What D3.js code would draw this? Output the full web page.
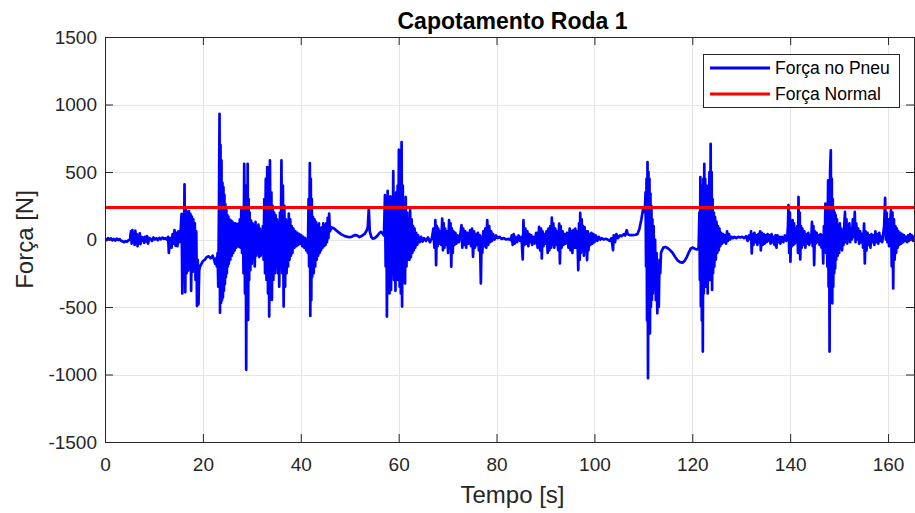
<!DOCTYPE html>
<html><head><meta charset="utf-8">
<script src="https://cdn.jsdelivr.net/npm/d3@7"></script>
<style>body{margin:0;background:#fff;}svg{display:block;font-family:"Liberation Sans",Arial,sans-serif;}</style>
</head><body>
<svg id="chart" width="915" height="513"></svg>
<script>
const chartTitle = "Capotamento Roda 1";
const xLabel = "Tempo [s]";
const yLabel = "Força [N]";
const seriesNames = ["Força no Pneu", "Força Normal"];
const xTicks = [0,20,40,60,80,100,120,140,160];
const yTicks = [-1500,-1000,-500,0,500,1000,1500];
const xDomain = [0, 165.3];
const yDomain = [-1500, 1500];
const normalForce = 237;
// [tempo (s), força (N)]
const forcaPneu = [
[0,5],[0.3,-5],[0.6,10],[0.9,0],[1.2,8],[1.5,-6],[1.8,4],[2.1,-8],[2.4,6],[2.7,-4],[3,2],[3.3,-10],[3.6,-14],[3.9,-20],[4.2,-12],[4.5,-16],[4.8,-6],[5.1,-2],
[5.3,60],[5.45,-30],[5.6,70],[5.75,-20],[5.9,50],[6.05,-40],[6.2,65],[6.35,-10],[6.5,40],[6.65,-50],[6.8,30],[6.95,-20],[7.1,45],[7.25,-35],[7.4,20],[7.6,-10],
[7.8,15],[8.0,-25],[8.2,20],[8.4,-15],[8.6,25],[8.8,-30],[9.0,10],[9.3,5],[9.6,-10],[9.9,15],[10.2,0],[10.5,10],[10.8,-5],[11.1,12],[11.4,2],[11.7,14],[12.0,5],[12.3,10],[12.6,0],
[12.9,20],[13.05,-100],[13.2,-20],[13.4,10],[13.6,-60],[13.8,40],[14.0,-30],[14.2,70],[14.4,-45],[14.6,50],[14.8,-50],[15.0,60],[15.2,-20],[15.4,30],
[15.65,190],[15.8,-400],[15.95,180],[16.1,-150],[16.25,409],[16.4,-390],[16.55,220],[16.7,-250],[16.85,200],[17.0,-230],[17.15,210],[17.3,-200],[17.45,190],[17.6,-380],[17.75,170],[17.9,-240],[18.05,150],[18.2,-180],[18.35,120],[18.5,-300],[18.65,60],[18.8,-493],[18.95,-150],[19.1,-480],[19.25,-230],[19.4,-200],
[19.7,-180],[20.0,-160],[20.4,-150],[20.8,-130],[21.2,-125],[21.6,-140],[22.0,-120],[22.3,-150],[22.5,-180],[22.7,-140],
[22.85,-200],[23.0,-100],[23.15,-350],[23.3,300],[23.4,931],[23.5,-542],[23.6,700],[23.7,-470],[23.8,586],[23.9,-450],[24.0,420],[24.1,-430],[24.2,389],[24.3,-380],[24.4,330],[24.5,-330],[24.6,260],[24.7,-280],[24.8,220],[24.9,-250],[25.0,180],[25.1,-200],[25.2,170],[25.3,-180],[25.45,150],[25.6,-150],[25.75,140],[25.9,-120],[26.05,130],[26.2,-100],[26.35,120],[26.5,-80],[26.65,120],[26.8,-60],[26.95,110],[27.1,-50],[27.25,118],[27.4,-54],[27.55,150],
[27.7,-60],[27.85,217],[28.0,-100],[28.15,200],[28.3,-250],[28.45,561],[28.6,-400],[28.75,400],[28.85,-965],[28.95,300],[29.05,-500],[29.15,561],[29.25,-596],[29.35,300],[29.45,-300],[29.55,200],
[29.7,-227],[29.85,140],[30.0,-180],[30.15,120],[30.3,-150],[30.45,100],[30.6,-200],[30.75,130],[30.9,-120],[31.05,90],[31.2,-100],[31.35,110],[31.5,-130],[31.65,80],[31.8,-120],[31.95,60],[32.1,-80],[32.25,100],
[32.4,-150],[32.55,300],[32.7,-250],[32.85,450],[33.0,-300],[33.15,537],[33.3,-400],[33.45,450],[33.55,-571],[33.7,586],[33.85,-350],[34.0,350],[34.1,-448],[34.25,250],[34.4,-300],
[34.55,200],[34.7,-250],[34.85,180],[35.0,-200],[35.15,150],[35.3,-250],[35.45,120],[35.6,-350],[35.75,200],[35.9,-200],[36.05,586],[36.2,-250],[36.35,400],[36.5,-497],[36.65,250],
[36.8,-350],[36.95,150],[37.1,-250],[37.25,130],[37.4,-200],[37.55,192],[37.7,-150],[37.85,150],[38.0,-120],[38.15,100],[38.3,-100],[38.5,80],[38.7,-60],[38.9,60],[39.1,-50],[39.3,50],[39.5,-40],[39.7,40],[39.9,-30],[40.1,30],[40.3,-50],[40.5,20],[40.7,-60],[40.9,10],[41.1,-80],[41.3,0],
[41.45,-100],[41.6,300],[41.7,-200],[41.85,566],[41.95,-566],[42.05,450],[42.15,-450],[42.25,300],[42.35,-275],[42.5,167],[42.65,-250],[42.8,150],[42.95,-200],[43.1,130],[43.25,-150],[43.4,100],[43.55,-120],[43.7,120],[43.85,-100],[44.0,80],[44.15,-80],[44.3,90],[44.45,-60],[44.6,120],[44.75,-50],[44.9,100],[45.05,-40],[45.2,120],[45.35,-20],[45.5,160],[45.65,10],[45.8,192],[45.95,60],
[46.3,90],[46.8,81],[47.5,60],[48.2,40],[49.0,25],[49.7,18],[50.4,20],[51.0,32],[51.5,30],[52.0,18],[52.6,30],[53.1,44],[53.5,70],[53.7,94],[53.9,229],[54.1,60],[54.4,20],[54.7,7],[55.1,10],[55.6,25],[56.0,45],[56.4,57],[56.8,40],[57.0,30],
[57.2,328],[57.35,-200],[57.5,300],[57.6,-571],[57.75,360],[57.9,-300],[58.0,250],[58.15,-400],[58.3,320],[58.45,-374],[58.6,200],[58.75,-250],[58.9,507],[59.05,-300],[59.2,250],[59.35,-380],[59.5,350],[59.65,-250],[59.8,400],[59.9,-300],[60.05,665],[60.2,-350],[60.35,500],[60.45,-400],[60.6,722],[60.7,-497],[60.85,400],[61.0,-300],[61.15,250],[61.3,-325],[61.45,315],[61.6,-200],[61.75,200],[61.9,-150],
[62.05,150],[62.2,-150],[62.35,217],[62.5,-130],[62.65,150],[62.8,-100],[62.95,100],[63.1,-80],[63.25,80],[63.4,-60],[63.6,50],[63.8,-40],[64.0,30],[64.3,-20],[64.6,20],[64.9,-15],[65.2,10],[65.6,-10],[66.0,15],[66.4,-20],[66.8,10],
[67.1,80],[67.3,-60],[67.5,143],[67.65,-190],[67.8,100],[67.95,-50],[68.1,80],[68.3,-30],[68.5,60],[68.7,-40],[68.9,155],[69.05,-80],[69.2,120],[69.35,-60],[69.5,80],[69.7,-40],[69.9,60],[70.1,-100],[70.3,143],[70.45,-60],[70.6,120],[70.75,-202],[70.9,80],[71.05,-100],[71.2,60],[71.4,-40],[71.6,50],[71.8,-30],[72.0,30],[72.3,-20],
[72.6,40],[72.85,106],[73.0,-60],[73.2,80],[73.4,-40],[73.6,60],[73.8,-60],[74.0,50],[74.3,-30],[74.6,70],[74.8,-50],[75.0,80],[75.2,-128],[75.4,60],[75.6,-60],[75.8,40],[76.0,-40],[76.2,50],[76.4,-80],[76.6,30],[76.8,-325],[76.95,20],[77.1,-100],[77.3,60],[77.5,-50],[77.7,80],[77.9,-60],[78.1,143],[78.3,-40],[78.5,100],
[78.7,-20],[78.9,60],[79.1,-10],[79.3,40],[79.6,0],[79.9,30],[80.2,10],[80.6,20],[81.0,5],[81.5,10],[82.0,0],[82.5,5],[82.9,-5],
[83.1,30],[83.3,-40],[83.5,40],[83.7,-30],[83.9,20],[84.2,-20],[84.5,30],[84.8,-10],[85.1,20],[85.35,-148],[85.5,143],[85.7,-40],[85.9,80],[86.1,-30],[86.3,60],[86.5,-50],[86.7,40],[86.9,-20],[87.1,30],[87.3,-40],[87.5,20],[87.8,-30],[88.1,50],[88.4,-60],[88.7,94],[88.9,-80],[89.1,80],[89.25,-140],[89.4,60],[89.6,-50],[89.8,40],[90.0,-30],[90.2,60],[90.45,-100],[90.6,80],[90.8,-80],[91.0,100],[91.15,-60],[91.3,163],[91.45,-40],[91.6,120],[91.8,-60],[92.0,80],[92.2,-40],[92.4,60],[92.6,-80],[92.8,118],[92.95,-177],[93.1,100],[93.3,-60],[93.5,60],[93.7,-40],[93.9,40],[94.1,-30],[94.4,50],[94.7,-60],[94.95,81],[95.1,-80],[95.3,60],[95.5,-100],[95.7,70],[95.9,-60],[96.1,80],[96.3,-60],[96.5,60],[96.7,-227],[96.85,120],[97.0,-150],[97.1,197],[97.25,-100],[97.4,150],[97.55,-80],[97.7,100],[97.85,-120],[98.0,90],[98.15,-60],[98.3,60],[98.5,-153],[98.65,60],[98.8,-80],[98.95,40],
[99.2,-40],[99.4,50],[99.6,-30],[99.8,40],[100.0,-20],[100.3,30],[100.6,-10],[100.9,20],[101.2,0],[101.5,10],[101.9,0],[102.3,5],[102.7,0],[103.1,-10],[103.5,10],[103.8,-79],[103.95,30],[104.2,-20],[104.5,40],[104.8,10],[105.2,30],[105.6,25],[106.0,40],[106.3,30],[106.6,69],[106.8,40],[107.2,32],[107.8,32],[108.4,35],[108.8,40],[109.2,80],[109.6,150],[109.9,217],[110.1,240],[110.3,200],
[110.45,350],[110.55,-200],[110.65,450],[110.75,-600],[110.85,574],[110.95,-1027],[111.05,500],[111.15,-700],[111.25,450],[111.35,-695],[111.45,340],[111.55,-500],[111.65,250],[111.75,-448],[111.85,150],[111.95,-400],[112.1,100],[112.25,-350],[112.4,0],[112.55,-450],[112.7,-100],[112.85,-547],[113.0,-200],[113.15,-500],[113.3,-150],[113.45,-250],[113.6,-100],
[113.8,-80],[114.1,-60],[114.5,-55],[115.0,-65],[115.5,-80],[116.0,-100],[116.5,-130],[117.0,-155],[117.5,-168],[118.0,-172],[118.5,-155],[118.9,-128],[119.3,-95],[119.7,-66],[120.1,-60],[120.6,-70],[121.0,-74],[121.3,-60],
[121.45,200],[121.55,-300],[121.65,463],[121.75,-497],[121.85,400],[121.95,-600],[122.05,350],[122.15,-830],[122.25,450],[122.35,-400],[122.45,561],[122.55,-350],[122.65,450],[122.75,-300],[122.85,400],[122.95,-350],[123.05,300],[123.15,-400],[123.25,400],[123.35,-250],[123.5,500],[123.6,-300],[123.75,709],[123.85,-250],[123.95,500],[124.05,-374],[124.15,300],[124.25,-250],[124.4,200],[124.5,-202],[124.65,167],[124.8,-150],[124.95,130],[125.1,-100],[125.25,100],[125.4,-80],[125.55,80],[125.7,-50],
[125.9,50],[126.1,-30],[126.3,40],[126.5,-20],[126.7,30],[126.9,-30],[127.1,60],[127.3,-10],[127.5,40],[127.7,0],[128.0,20],[128.3,10],[128.6,20],[129.0,10],[129.4,20],[129.8,15],[130.2,20],[130.6,10],[131.0,25],[131.3,-10],[131.6,30],[131.9,0],[132.0,60],[132.15,-103],[132.3,40],[132.5,-40],[132.7,50],[132.9,-20],[133.1,30],[133.3,-40],[133.5,40],[133.7,-20],[133.85,60],[134.0,-80],[134.2,50],[134.4,-40],[134.6,40],[134.8,-30],[135.0,30],[135.2,-20],[135.4,40],[135.6,-10],[135.8,30],[136.0,-30],[136.2,40],[136.4,-20],[136.6,20],[136.8,-40],[137.0,30],[137.2,-60],[137.4,30],[137.6,-20],[137.8,20],[138.0,-30],[138.3,20],[138.6,-20],[138.9,30],[139.2,-10],[139.4,20],
[139.55,100],[139.65,254],[139.8,-100],[139.95,200],[140.05,-165],[140.2,100],[140.35,-50],[140.5,143],[140.65,-40],[140.8,120],[140.95,-30],[141.1,80],[141.25,-20],[141.45,100],[141.6,-100],[141.7,315],[141.8,-50],[141.95,200],[142.05,-148],[142.2,100],[142.35,-60],[142.5,80],[142.7,-40],[142.9,60],[143.1,-60],[143.3,40],[143.5,-30],[143.7,50],[143.9,-40],[144.1,30],[144.3,-20],[144.45,130],[144.6,-50],[144.75,100],[144.9,-190],[145.05,60],[145.2,-30],[145.4,50],[145.6,-20],[145.8,30],[146.0,-40],[146.2,40],[146.4,-60],[146.6,30],[146.75,-177],[146.9,100],[147.05,-80],[147.2,266],[147.35,-100],[147.5,250],[147.6,-200],[147.75,438],[147.85,-350],[147.95,400],[148.05,-830],[148.15,500],[148.3,660],[148.4,-300],[148.5,450],[148.6,-473],[148.7,300],[148.8,-350],[148.9,217],[149.0,-250],[149.1,200],[149.2,-214],[149.3,180],[149.4,-150],[149.55,150],[149.7,-120],[149.85,100],[150.0,-100],[150.15,120],[150.3,-60],[150.45,80],[150.6,-80],[150.75,60],[150.9,-40],[151.05,100],[151.2,204],[151.35,-20],[151.5,150],[151.65,-30],[151.8,100],[151.95,0],[152.1,120],[152.25,-20],[152.4,80],[152.6,0],[152.8,150],[153.0,20],[153.2,204],[153.35,-20],[153.5,120],[153.7,0],[153.9,80],[154.1,-30],[154.3,60],[154.5,-20],[154.7,40],[154.9,-60],[155.1,118],[155.25,-177],[155.4,60],[155.6,-80],[155.8,50],[156.0,-40],[156.2,30],[156.4,-60],[156.6,40],[156.8,-20],[157.0,30],[157.2,-40],[157.4,60],[157.6,-20],[157.8,40],[158.0,-30],[158.2,50],[158.4,-10],[158.6,20],[158.8,-20],[159.0,40],[159.2,100],[159.4,308],[159.55,0],[159.7,200],[159.85,-20],[160.0,150],[160.2,-50],[160.4,100],[160.6,217],[160.75,-200],[160.9,200],[161.05,-362],[161.2,150],[161.35,-150],[161.5,100],[161.65,-100],[161.8,80],[161.95,-60],[162.1,60],[162.3,-40],[162.5,50],[162.7,-30],[162.9,40],[163.1,-20],[163.3,30],[163.5,-10],[163.7,20],[163.9,-20],[164.1,30],[164.3,-10],[164.5,40],[164.7,0],[164.9,30],[165.1,-10],[165.3,20],[165.5,10]
];

const svg = d3.select("#chart");
const L = 105, T = 37, R = 914, B = 442;
const x = d3.scaleLinear().domain(xDomain).range([L, R]);
const y = d3.scaleLinear().domain(yDomain).range([B, T]);
const fmt = d => String(d);

svg.append("defs").append("clipPath").attr("id","clip")
  .append("rect").attr("x",L).attr("y",T).attr("width",R-L).attr("height",B-T);

// grid
const grid = svg.append("g").attr("stroke","#e5e5e5").attr("stroke-width",1);
xTicks.forEach(t=>{ grid.append("line").attr("x1",Math.round(x(t))+0.5).attr("x2",Math.round(x(t))+0.5).attr("y1",T).attr("y2",B); });
yTicks.forEach(t=>{ grid.append("line").attr("y1",Math.round(y(t))+0.5).attr("y2",Math.round(y(t))+0.5).attr("x1",L).attr("x2",R); });

// series
const plot = svg.append("g").attr("clip-path","url(#clip)");
plot.append("path").datum(forcaPneu)
  .attr("fill","none").attr("stroke","#0000ff").attr("stroke-width",2.7).attr("stroke-linejoin","round")
  .attr("d", d3.line().x(d=>x(d[0])).y(d=>y(d[1])));
plot.append("line").attr("x1",x(xDomain[0])).attr("x2",x(xDomain[1]))
  .attr("y1",y(normalForce)).attr("y2",y(normalForce))
  .attr("stroke","#ff0000").attr("stroke-width",3);

// axes (MATLAB style, inward ticks, labels)
const tickLen = 8;
const axisColor = "#262626";
const xa = d3.axisBottom(x).tickValues(xTicks).tickSize(-tickLen).tickPadding(16).tickFormat(fmt);
const ya = d3.axisLeft(y).tickValues(yTicks).tickSize(-tickLen).tickPadding(8).tickFormat(fmt);
const gx = svg.append("g").attr("transform",`translate(0,${B})`).call(xa);
const gy = svg.append("g").attr("transform",`translate(${L},0)`).call(ya);
const gxt = svg.append("g").attr("transform",`translate(0,${T})`).call(d3.axisTop(x).tickValues(xTicks).tickSize(-tickLen).tickFormat(""));
const gyr = svg.append("g").attr("transform",`translate(${R},0)`).call(d3.axisRight(y).tickValues(yTicks).tickSize(-tickLen).tickFormat(""));
[gx,gy,gxt,gyr].forEach(g=>{
  g.select(".domain").attr("stroke",axisColor);
  g.selectAll(".tick line").attr("stroke",axisColor);
  g.selectAll("text").attr("fill","#262626").attr("font-size",19).attr("font-family","Liberation Sans, Arial, sans-serif");
});
gx.selectAll("text").attr("dy","0.71em");

// title & labels
svg.append("text").attr("x",(L+R)/2+3).attr("y",29).attr("text-anchor","middle")
  .attr("font-size",23).attr("font-weight","bold").attr("fill","#000").text(chartTitle);
svg.append("text").attr("x",(L+R)/2+3).attr("y",503).attr("text-anchor","middle")
  .attr("font-size",24).attr("fill","#262626").text(xLabel);
svg.append("text").attr("transform",`translate(33,${(T+B)/2}) rotate(-90)`).attr("text-anchor","middle")
  .attr("font-size",24).attr("fill","#262626").text(yLabel);

// legend
const lg = svg.append("g");
lg.append("rect").attr("x",703.5).attr("y",54.5).attr("width",196).attr("height",53)
  .attr("fill","#fff").attr("stroke","#262626").attr("stroke-width",1);
const legendColors = ["#0000ff","#ff0000"];
seriesNames.forEach((n,i)=>{
  const yy = 68 + i*26;
  lg.append("line").attr("x1",710).attr("x2",770).attr("y1",yy).attr("y2",yy)
    .attr("stroke",legendColors[i]).attr("stroke-width",3);
  lg.append("text").attr("x",775).attr("y",yy).attr("dy","0.35em").attr("font-size",17.5)
    .attr("fill","#000").text(n);
});
</script>
</body></html>
